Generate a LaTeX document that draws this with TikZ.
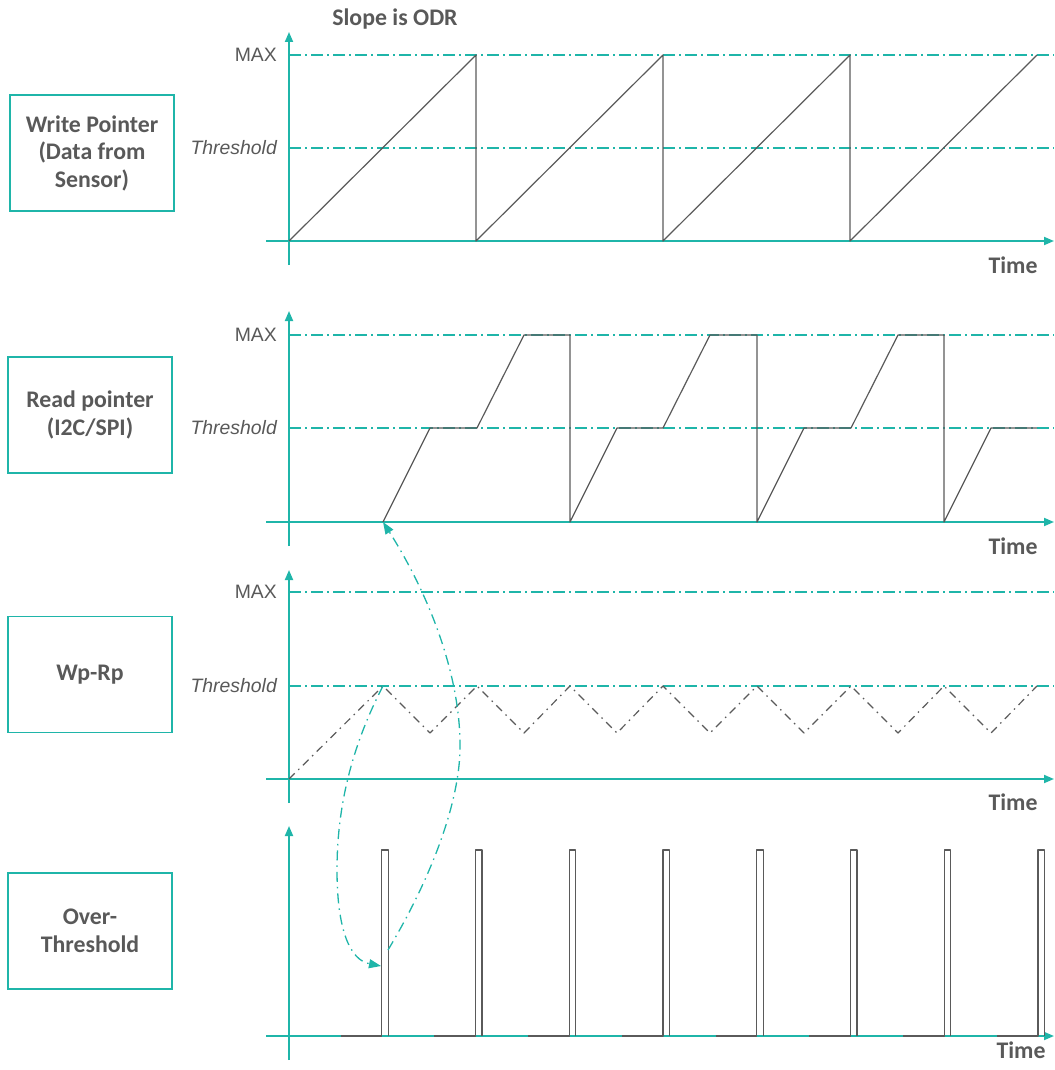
\documentclass[tikz,border=0pt]{standalone}
\usepackage{fontspec}
\setmainfont{Carlito}
\newfontfamily\arialfont{Liberation Sans}
\usetikzlibrary{arrows.meta}
\definecolor{accent}{HTML}{1FB5A9}
\definecolor{ink}{HTML}{595959}
\definecolor{trc}{HTML}{5A5A5A}
\begin{document}
\begin{tikzpicture}[x=1pt,y=-1pt,
  axisline/.style={draw=accent,line width=1.8pt,-{Triangle[length=10pt,width=8pt]}},
  level/.style={draw=accent,line width=1.3pt,dash pattern=on 12pt off 4pt on 2pt off 4pt},
  trace/.style={draw=trc,line width=1.2pt,line join=round},
  difftrace/.style={trace,dash pattern=on 8pt off 5pt on 1.5pt off 5pt},
  pulse/.style={draw=trc,line width=1.4pt,line join=round},
  flow/.style={draw=accent,line width=1.3pt,dash pattern=on 10pt off 5pt on 1.5pt off 5pt,
    -{Triangle[length=12pt,width=9pt]}},
  box/.style={draw=accent,line width=1.4pt,minimum width=164pt,minimum height=116pt,
    align=center,text=ink,font=\bfseries\fontsize{23.8}{27.5}\selectfont},
  lab/.style={text=ink,font=\arialfont\fontsize{19.4}{23}\selectfont,anchor=east,inner sep=0pt},
  ilab/.style={lab,font=\arialfont\itshape\fontsize{19.4}{23}\selectfont},
  timelab/.style={text=ink,font=\bfseries\fontsize{23.8}{26}\selectfont,inner sep=0pt}
]
\useasboundingbox (0,0) rectangle (1054,1070);

% axes of the four panels
\foreach \p/\top/\base/\bot in {a/32/241/265, b/311/522/546, c/570/779/803, d/826/1036/1060} {
  \coordinate (\p-top) at (289,\top);
  \coordinate (\p-bot) at (289,\bot);
  \coordinate (\p-left) at (266,\base);
  \coordinate (\p-right) at (1054,\base);
  \draw[axisline] (\p-bot) -- (\p-top);
  \draw[axisline] (\p-left) -- (\p-right);
}

% MAX and threshold levels
\foreach \p/\mx/\th in {a/55/148, b/335/428, c/592/686} {
  \coordinate (\p-maxl) at (289,\mx);
  \coordinate (\p-maxr) at (1054,\mx);
  \coordinate (\p-thl) at (289,\th);
  \coordinate (\p-thr) at (1054,\th);
  \draw[level] (\p-maxl) -- (\p-maxr);
  \draw[level] (\p-thl) -- (\p-thr);
  \node[lab] (max-\p) at (277,\mx) {MAX};
  \node[ilab] (thr-\p) at (277,\th) {Threshold};
}

% time labels
\node[timelab] (time-a) at (1013,265) {Time};
\node[timelab] (time-b) at (1013,546) {Time};
\node[timelab] (time-c) at (1013,802) {Time};
\node[timelab] (time-d) at (1021,1050) {Time};

\node[timelab] (slope) at (395,19) {Slope is ODR};

% row labels
\node[box] (wp) at (92,153) {Write Pointer\\(Data from\\Sensor)};
\node[box] (rp) at (90,415) {Read pointer\\(I2C/SPI)};
\node[box] (diff) at (90,674.5) {Wp-Rp};
\node[box] (over) at (90,931) {Over-\\Threshold};

% write pointer: sawtooth
\draw[trace] (289,241) -- (476,55) -- (476,241) -- (663,55) -- (663,241)
  -- (850,55) -- (850,241) -- (1037,55);

% read pointer: bursts with pauses at threshold and MAX
\draw[trace] (383,522) -- (430,428) -- (477,428) -- (524,335) -- (570,335) -- (570,522)
  -- (617,428) -- (663,428) -- (710,335) -- (757,335) -- (757,522)
  -- (804,428) -- (851,428) -- (898,335) -- (944,335) -- (944,522)
  -- (991,428) -- (1037,428);

% difference of the two pointers
\draw[difftrace] (289,779) -- (383,686) -- (430,733) -- (477,686) -- (524,733) -- (570,686)
  -- (617,733) -- (663,686) -- (710,733) -- (757,686) -- (804,733) -- (851,686)
  -- (898,733) -- (944,686) -- (991,733) -- (1037,686);

% over-threshold pulses
\foreach \k in {0,...,7} {
  \pgfmathsetmacro\xl{381.7+93.75*\k}
  \draw[pulse] ({\xl-41},1036) -- (\xl,1036) -- (\xl,850) -- ({\xl+6.5},850) -- ({\xl+6.5},1036);
}

% cause and effect
\coordinate (rp-start) at (383,522);
\coordinate (diff-peak) at (383,686);
\coordinate (over-hit) at (381,966);
\coordinate (over-leave) at (388,950);
\draw[flow] (diff-peak) .. controls (355,740) and (337,800) .. (337,870)
  .. controls (337,930) and (350,960) .. (over-hit);
\draw[flow] (over-leave) .. controls (430,880) and (462,800) .. (460,740)
  .. controls (458,660) and (420,580) .. (rp-start);
\end{tikzpicture}
\end{document}
